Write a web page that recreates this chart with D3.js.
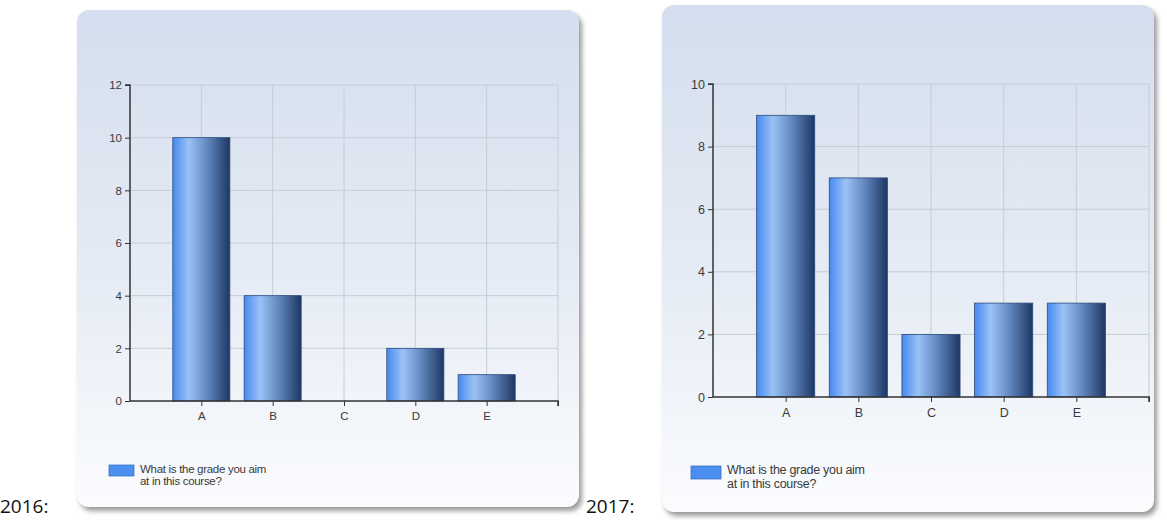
<!DOCTYPE html>
<html>
<head>
<meta charset="utf-8">
<script src="https://cdn.jsdelivr.net/npm/d3@7"></script>
<style>
  body { margin: 0; background: #fff; }
  svg { display: block; }
</style>
</head>
<body>
<svg id="chart" width="1167" height="520"></svg>
<script>
// data
var categories = ["A", "B", "C", "D", "E"];
var values2016 = [10, 4, 0, 2, 1];
var values2017 = [9, 7, 2, 3, 3];
var yTicks2016 = [0, 2, 4, 6, 8, 10, 12];
var yTicks2017 = [0, 2, 4, 6, 8, 10];
var yearLabels = ["2016:", "2017:"];
var legendLines = ["What is the grade you aim", "at in this course?"];

var svg = d3.select("#chart");
var defs = svg.append("defs");

// panel background
var pg = defs.append("linearGradient").attr("id", "panelGrad")
  .attr("x1", 0).attr("y1", 0).attr("x2", 0).attr("y2", 1);
pg.append("stop").attr("offset", "0%").attr("stop-color", "#d4deee");
pg.append("stop").attr("offset", "55%").attr("stop-color", "#e6ecf5");
pg.append("stop").attr("offset", "100%").attr("stop-color", "#fbfcfe");

// bar cylinder shading
var bg = defs.append("linearGradient").attr("id", "barGrad")
  .attr("x1", 0).attr("y1", 0).attr("x2", 1).attr("y2", 0);
bg.append("stop").attr("offset", "0%").attr("stop-color", "#4689ee");
bg.append("stop").attr("offset", "28%").attr("stop-color", "#9bc2f6");
bg.append("stop").attr("offset", "55%").attr("stop-color", "#6b92c9");
bg.append("stop").attr("offset", "100%").attr("stop-color", "#1d3764");

var blur = defs.append("filter").attr("id", "shadow")
  .attr("x", "-5%").attr("y", "-5%").attr("width", "115%").attr("height", "115%");
blur.append("feGaussianBlur").attr("stdDeviation", 2.5);

function drawPanel(opt, values, yTicks) {
  var g = svg.append("g");

  // drop shadow + panel
  g.append("rect")
    .attr("x", opt.px + 3).attr("y", opt.py + 4)
    .attr("width", opt.pw).attr("height", opt.ph)
    .attr("rx", 12)
    .attr("fill", "#9a9a9a")
    .attr("filter", "url(#shadow)");
  g.append("rect")
    .attr("x", opt.px).attr("y", opt.py)
    .attr("width", opt.pw).attr("height", opt.ph)
    .attr("rx", 12)
    .attr("fill", "url(#panelGrad)");

  var x = d3.scaleLinear().domain([0, categories.length + 1]).range([opt.x0, opt.x1]);
  var y = d3.scaleLinear().domain([0, d3.max(yTicks)]).range([opt.y0, opt.yTop]);
  var step = x(1) - x(0);
  var bw = step * 0.8;

  // grid
  g.selectAll(".hgrid").data(yTicks.slice(1)).enter().append("line")
    .attr("x1", opt.x0).attr("x2", opt.x1)
    .attr("y1", function(d) { return y(d); }).attr("y2", function(d) { return y(d); })
    .attr("stroke", "#c6ccd6").attr("stroke-width", 1);
  var vpos = d3.range(1, categories.length + 2);
  g.selectAll(".vgrid").data(vpos).enter().append("line")
    .attr("x1", function(d) { return x(d); }).attr("x2", function(d) { return x(d); })
    .attr("y1", opt.yTop).attr("y2", opt.y0)
    .attr("stroke", "#c6ccd6").attr("stroke-width", 1);

  // bars (zero values draw nothing)
  var rows = values.map(function(v, i) { return { i: i, v: v }; })
    .filter(function(d) { return d.v > 0; });
  g.selectAll(".bar").data(rows).enter().append("rect")
    .attr("x", function(d) { return x(d.i + 1) - bw / 2; })
    .attr("y", function(d) { return y(d.v); })
    .attr("width", bw)
    .attr("height", function(d) { return y(0) - y(d.v); })
    .attr("fill", "url(#barGrad)")
    .attr("stroke", "#2b4a7c").attr("stroke-width", 0.8);

  // axes
  var yAxis = d3.axisLeft(y).tickValues(yTicks).tickSize(5).tickPadding(3);
  var ya = g.append("g").attr("transform", "translate(" + opt.x0 + ",0)").call(yAxis);
  var xAxis = d3.axisBottom(x).tickValues(vpos).tickSize(5).tickPadding(6)
    .tickFormat(function(d) { return categories[d - 1] || ""; });
  var xa = g.append("g").attr("transform", "translate(0," + opt.y0 + ")").call(xAxis);

  [ya, xa].forEach(function(a) {
    a.select(".domain").attr("stroke", "#333").attr("stroke-width", 1.5);
    a.selectAll(".tick line").attr("stroke", "#333");
    a.selectAll("text")
      .attr("fill", "#3a3a3a")
      .style("font-family", "'Liberation Sans', Arial, sans-serif")
      .style("font-size", opt.fs + "px");
  });
  ya.select(".domain").attr("d", "M-5," + opt.yTop + "H0V" + opt.y0);
  xa.select(".domain").attr("d", "M" + opt.x0 + ",0H" + opt.x1 + "V5");

  // legend
  g.append("rect")
    .attr("x", opt.lx).attr("y", opt.ly)
    .attr("width", opt.lw).attr("height", opt.lh)
    .attr("fill", "#4a8ff0").attr("stroke", "#3c74c4").attr("stroke-width", 0.8);
  g.append("text")
    .attr("x", opt.lx + opt.lw + 6).attr("y", opt.ly - 1)
    .attr("fill", "#3a3a3a")
    .style("font-family", "'Liberation Sans', Arial, sans-serif")
    .style("font-size", opt.lfs + "px")
    .style("letter-spacing", "-0.3px")
    .selectAll("tspan").data(legendLines).enter().append("tspan")
    .attr("x", opt.lx + opt.lw + 6)
    .attr("dy", function(d, i) { return i === 0 ? opt.lfs * 0.75 : opt.lfs * 1.05; })
    .text(function(d) { return d; });

  // year label outside the panel
  svg.append("text")
    .attr("x", opt.tx).attr("y", 513)
    .attr("fill", "#111")
    .style("font-family", "'Open Sans', Lato, sans-serif")
    .style("font-size", "19px")
    .text(opt.label);
}

drawPanel({ px: 77, py: 10, pw: 502, ph: 497, x0: 130, x1: 558, yTop: 85, y0: 401, fs: 11.5,
  lx: 109, ly: 465, lw: 25, lh: 11, lfs: 11.5, tx: 0, label: yearLabels[0] }, values2016, yTicks2016);
drawPanel({ px: 662, py: 5, pw: 492, ph: 507, x0: 713, x1: 1149, yTop: 84, y0: 397, fs: 12.5,
  lx: 691, ly: 466, lw: 30, lh: 13, lfs: 12.5, tx: 586, label: yearLabels[1] }, values2017, yTicks2017);
</script>
</body>
</html>
